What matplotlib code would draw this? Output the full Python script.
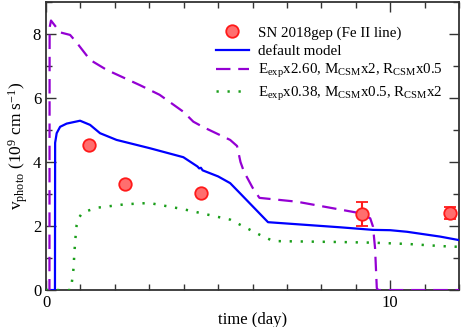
import matplotlib
matplotlib.use("Agg")
import matplotlib.pyplot as plt
from matplotlib.ticker import MultipleLocator
from matplotlib.lines import Line2D

plt.rcParams['font.family'] = ['Liberation Serif', 'DejaVu Serif']
plt.rcParams['mathtext.fontset'] = 'custom'
plt.rcParams['mathtext.rm'] = 'Liberation Serif'
plt.rcParams['mathtext.it'] = 'Liberation Serif:italic'

# observed photospheric velocity (SN 2018gep, Fe II line)
obs_t = [1.25, 2.3, 4.5, 9.19, 11.74]
obs_v = [4.53, 3.31, 3.03, 2.37, 2.41]
obs_err = [0, 0, 0, 0.38, 0.2]

# default model
def_t = [0, 0.26, 0.265, 0.31, 0.41, 0.6, 0.99, 1.28, 1.57, 2.05, 3.02, 3.99,
         4.4, 4.45, 4.5, 4.55, 5.0, 5.35, 5.64, 6.45, 8.55, 9.5, 10.0, 10.49,
         11.45, 12.0]
def_v = [0, 0, 4.6, 4.9, 5.1, 5.2, 5.29, 5.16, 4.9, 4.69, 4.43, 4.15,
         3.86, 3.80, 3.82, 3.74, 3.55, 3.34, 3.02, 2.12, 1.96, 1.88, 1.87, 1.82,
         1.67, 1.56]

# Eexp x2.60, Mcsm x2, Rcsm x0.5
hi_t = [0, 0.1, 0.105, 0.145, 0.41, 0.7, 0.87, 1.28, 1.76, 2.73, 3.3, 3.99,
        4.28, 4.57, 5.35, 5.55, 5.65, 5.75, 6.0, 6.2, 7.29, 9.13, 9.42, 9.5,
        9.56, 9.61, 9.65, 12.0]
hi_v = [0, 0, 8.2, 8.42, 8.05, 7.97, 7.76, 7.19, 6.88, 6.4, 6.1, 5.57,
        5.26, 5.09, 4.69, 4.5, 4.0, 3.7, 3.2, 2.88, 2.76, 2.4, 2.24, 1.98,
        1.3, 0.06, 0, 0]

# Eexp x0.38, Mcsm x0.5, Rcsm x2
lo_t = [0, 0.72, 0.77, 0.8, 0.82, 0.85, 0.89, 0.95, 1.06, 1.47, 2.3, 3.0, 3.97,
        5.35, 6.22, 6.6, 8.55, 9.5, 10.5, 11.54, 12.0]
lo_v = [0, 0, 0.4, 0.68, 1.09, 1.56, 2.03, 2.25, 2.42, 2.57, 2.68, 2.72, 2.53,
        2.2, 1.72, 1.53, 1.5, 1.48, 1.44, 1.37, 1.35]

fig = plt.figure(figsize=(4.61, 3.27), dpi=100)
ax = fig.add_axes([0.0998, 0.113, 0.896, 0.881])

l1, = ax.plot(def_t, def_v, color='#0000ff', lw=1.6, zorder=3)
l2, = ax.plot(hi_t, hi_v, color='#9400d3', lw=1.6, dashes=(6.5, 3.5), zorder=3)
l3, = ax.plot(lo_t, lo_v, color='#1a9e1a', lw=1.8, dashes=(0.9, 3.5), zorder=3)
ax.errorbar(obs_t, obs_v, yerr=obs_err, fmt='o', ms=9, mfc='#ff6e6e',
            mec='#ff1a1a', mew=1.3, ecolor='#ff1a1a', elinewidth=1.5,
            capsize=4, capthick=1.5, zorder=4)
pt = Line2D([], [], ls='none', marker='o', ms=9, mfc='#ff6e6e',
            mec='#ff1a1a', mew=1.3)

ax.set_xlim(0, 12)
ax.set_ylim(0, 9)
ax.xaxis.set_major_locator(MultipleLocator(10))
ax.xaxis.set_minor_locator(MultipleLocator(1))
ax.yaxis.set_major_locator(MultipleLocator(2))
ax.yaxis.set_minor_locator(MultipleLocator(1))
ax.tick_params(which='both', direction='in', top=True, right=True,
               labelsize=12, color='#333333')
ax.tick_params(which='major', length=7, width=1)
ax.tick_params(which='minor', length=4, width=1)
for s in ax.spines.values():
    s.set_linewidth(1.3)
    s.set_color('#333333')

ax.set_xlabel('time (day)', fontsize=12, labelpad=1)
ax.set_ylabel(r'v$_{\rm photo}$ (10$^9$ cm s$^{-1}$)', fontsize=12.5, labelpad=2)

ax.legend([pt, l1, l2, l3],
          ['SN 2018gep (Fe II line)', 'default model',
           r'E$_{\rm exp}$x2.60, M$_{\rm CSM}$x2, R$_{\rm CSM}$x0.5',
           r'E$_{\rm exp}$x0.38, M$_{\rm CSM}$x0.5, R$_{\rm CSM}$x2'],
          loc='upper left', bbox_to_anchor=(0.397, 0.937), frameon=False,
          fontsize=10.8, handlelength=2.2, handletextpad=0.6,
          labelspacing=0.3, borderaxespad=0.0)

fig.savefig('out.png', dpi=100)
